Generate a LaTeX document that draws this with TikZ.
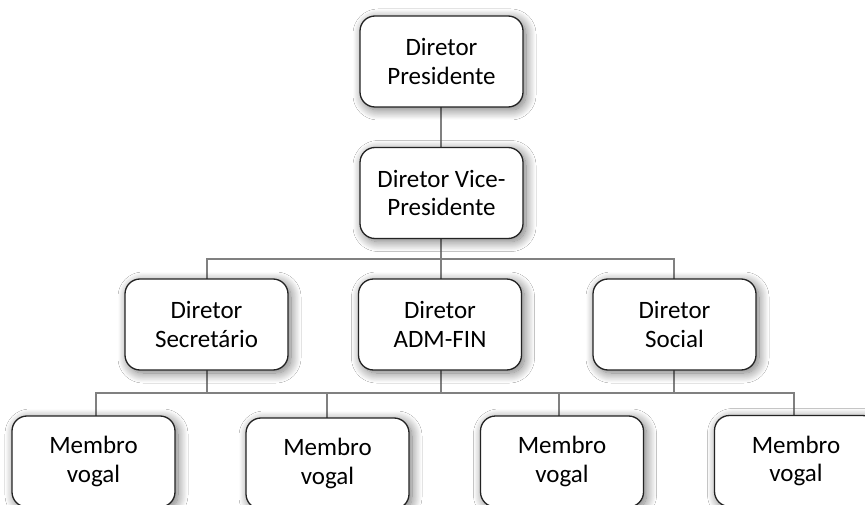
\documentclass[tikz,border=0pt]{standalone}
\usepackage{fontspec}
\setmainfont{Carlito}
\usetikzlibrary{shadows.blur}
\definecolor{linegray}{RGB}{128,128,128}
\definecolor{boxedge}{RGB}{35,35,35}
\tikzset{
  orgbox/.style={draw=boxedge, line width=1.3pt, fill=white, rounded corners=15pt,
    minimum width=163pt, minimum height=91pt, align=center,
    font=\fontsize{25}{28.5}\selectfont, inner sep=0pt,
    blur shadow={shadow blur steps=16, shadow xshift=3pt, shadow yshift=-3pt,
      shadow blur radius=10pt, shadow opacity=55}},
  conn/.style={draw=linegray, line width=1.2pt}
}
\begin{document}
\begin{tikzpicture}[x=1pt,y=-1pt]
\useasboundingbox (0,0) rectangle (865,505);
\clip (0,0) rectangle (865,505);
\fill[white] (0,0) rectangle (865,505);
% connectors first (behind boxes)
\coordinate (busA) at (441,259);
\coordinate (busB) at (441,393);
\coordinate (pS) at (441,107);
\coordinate (vN) at (441,148);
\coordinate (vS) at (441,238);
\coordinate (sN) at (207,279);
\coordinate (sS) at (207,370);
\coordinate (aN) at (441,279);
\coordinate (aS) at (441,370);
\coordinate (oN) at (674,279);
\coordinate (oS) at (674,370);
\coordinate (m1N) at (96,416);
\coordinate (m2N) at (327,418);
\coordinate (m3N) at (559,416);
\coordinate (m4N) at (794,416);
\draw[conn] (pS) -- (vN);
\draw[conn] (vS) -- (busA);
\draw[conn] (sN) |- (busA) -| (oN);
\draw[conn] (aN) -- (busA);
\draw[conn] (sS) -- (sS |- busB);
\draw[conn] (aS) -- (busB);
\draw[conn] (oS) -- (oS |- busB);
\draw[conn] (m1N) |- (busB) -| (m4N);
\draw[conn] (m2N) -- (m2N |- busB);
\draw[conn] (m3N) -- (m3N |- busB);
% boxes
\node[orgbox] (pres) at (441.5,61.5) {Diretor\\Presidente};
\node[orgbox] (vice) at (441.5,193) {Diretor Vice-\\Presidente};
\node[orgbox] (sec) at (206.5,324.5) {Diretor\\Secretário};
\node[orgbox] (adm) at (440,324.5) {Diretor\\ADM-FIN};
\node[orgbox] (soc) at (674.5,324.5) {Diretor\\Social};
\node[orgbox] (m1) at (93.5,461.5) {Membro\\vogal};
\node[orgbox] (m2) at (327.5,463.5) {Membro\\vogal};
\node[orgbox] (m3) at (562,461.5) {Membro\\vogal};
\node[orgbox] (m4) at (796,461) {Membro\\vogal};
\end{tikzpicture}
\end{document}
